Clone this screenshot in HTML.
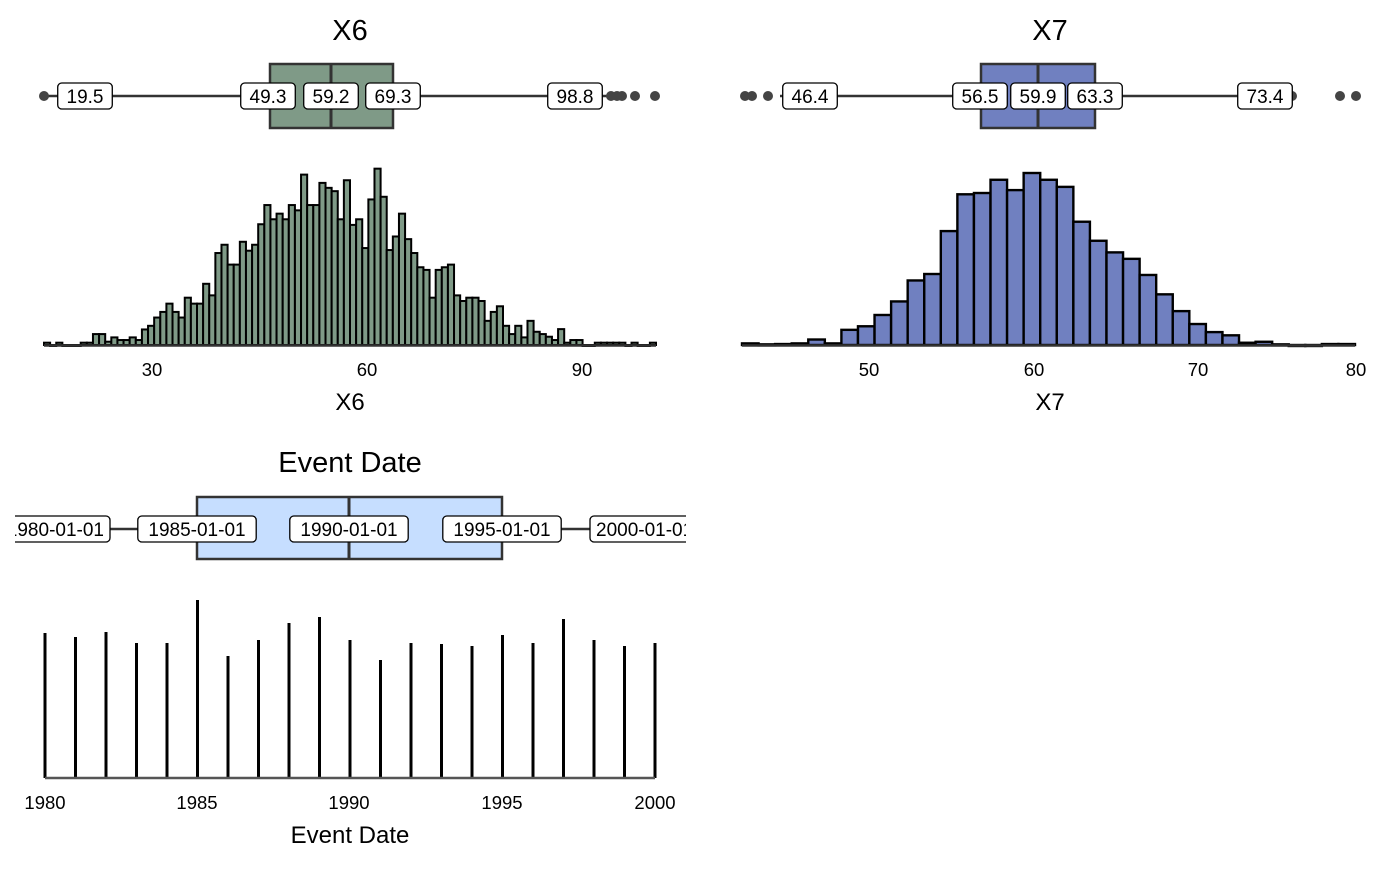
<!DOCTYPE html>
<html><head><meta charset="utf-8"><style>
html,body{margin:0;padding:0;background:#fff}
svg text{font-family:"Liberation Sans",Arial,sans-serif}
</style></head><body>
<svg id="s" width="1400" height="866" viewBox="0 0 1400 866" xmlns="http://www.w3.org/2000/svg">
<rect width="1400" height="866" fill="#fff"/>
<text x="350" y="40" font-size="29" text-anchor="middle">X6</text>
<text x="1050" y="40" font-size="29" text-anchor="middle">X7</text>
<text x="350" y="472" font-size="29" text-anchor="middle">Event Date</text>
<g id="h6"></g><g id="h7"></g><g id="ev"></g>
<g font-size="18.5" text-anchor="middle">
<text x="152" y="376">30</text><text x="367" y="376">60</text><text x="582" y="376">90</text>
<text x="869" y="376">50</text><text x="1034" y="376">60</text><text x="1198" y="376">70</text><text x="1356" y="376">80</text>
<text x="45" y="809">1980</text><text x="197" y="809">1985</text><text x="349" y="809">1990</text><text x="502" y="809">1995</text><text x="655" y="809">2000</text>
</g>
<g font-size="24" text-anchor="middle">
<text x="350" y="410">X6</text><text x="1050" y="410">X7</text><text x="350" y="843">Event Date</text>
</g>
<g id="bx"></g>
</svg>
<script>
var NS="http://www.w3.org/2000/svg";
function el(p,t,a,txt){var e=document.createElementNS(NS,t);for(var k in a)e.setAttribute(k,a[k]);if(txt!==undefined)e.textContent=txt;p.appendChild(e);return e;}
var t6=[548,555,548,555,555,555,548,548,522,522,545,532,540,540,532,540,508,497,472,455,430,455,472,412,430,430,370,405,277,252,312,312,243,270,252,190,132,175,158,175,132,148,40,132,132,65,80,90,175,57,192,175,262,115,22,107,268,227,158,235,277,320,328,412,328,320,312,405,422,412,412,422,482,455,438,497,522,497,532,482,515,522,530,540,507,548,540,540,555,555,548,548,548,548,548,555,548,555,555,548];
var g6=document.getElementById('h6');var x0=44,x1=656,w=(x1-x0)/t6.length;
for(var i=0;i<t6.length;i++){var h=(555-t6[i])*177/535;el(g6,'rect',{x:x0+i*w,y:345-h,width:w,height:Math.max(h,1),fill:'#7f9a87',stroke:'#000','stroke-width':2});}
el(g6,'line',{x1:x0,x2:x1,y1:345.5,y2:345.5,stroke:'#333','stroke-width':2.5});
var t7=[550,553,552,550,538,550,508,497,462,420,355,335,202,88,84,43,75,22,43,65,173,232,268,288,338,398,450,490,515,525,548,545,553,555,555,552,552];
var g7=document.getElementById('h7');x0=742;x1=1355;w=(x1-x0)/t7.length;
for(i=0;i<t7.length;i++){h=(555-t7[i])*172/533;el(g7,'rect',{x:x0+i*w,y:345-h,width:w,height:Math.max(h,1),fill:'#7080c0',stroke:'#000','stroke-width':2.4});}
el(g7,'line',{x1:x0,x2:x1,y1:345.5,y2:345.5,stroke:'#333','stroke-width':2.5});
var ev=document.getElementById('ev');var tops=[633,637,632,643,643,600,656,640,623,617,640,660,643,644,646,635,643,619,640,646,643];
for(i=0;i<21;i++){var x=45+i*30.5;el(ev,'line',{x1:x,x2:x,y1:tops[i],y2:778,stroke:'#000','stroke-width':3});}
el(ev,'line',{x1:45,x2:655,y1:778,y2:778,stroke:'#555','stroke-width':2.5});
var bx=document.getElementById('bx');
function lab(cx,cy,t,fs){var tw=t.length*fs*0.56+12;
 el(bx,'rect',{x:cx-tw/2,y:cy-13,width:tw,height:26,rx:4,fill:'#fff',stroke:'#000','stroke-width':1.3});
 el(bx,'text',{x:cx,y:cy+7,'font-size':fs,'text-anchor':'middle'},t);}
el(bx,'line',{x1:44,x2:612,y1:96,y2:96,stroke:'#333','stroke-width':2.5});
el(bx,'rect',{x:270,y:64,width:123,height:64,fill:'#7f9a87',stroke:'#333','stroke-width':2.5});
el(bx,'line',{x1:331,x2:331,y1:64,y2:128,stroke:'#333','stroke-width':3});
[44,611,617,622,635,655].forEach(function(x){el(bx,'circle',{cx:x,cy:96,r:5,fill:'#444'});});
lab(85,96,'19.5',19);lab(268,96,'49.3',19);lab(331,96,'59.2',19);lab(393,96,'69.3',19);lab(575,96,'98.8',19);
el(bx,'line',{x1:780,x2:1292,y1:96,y2:96,stroke:'#333','stroke-width':2.5});
el(bx,'rect',{x:981,y:64,width:114,height:64,fill:'#7080c0',stroke:'#333','stroke-width':2.5});
el(bx,'line',{x1:1038,x2:1038,y1:64,y2:128,stroke:'#333','stroke-width':3});
[745,752,768,1292,1340,1356].forEach(function(x){el(bx,'circle',{cx:x,cy:96,r:5,fill:'#444'});});
lab(810,96,'46.4',19);lab(980,96,'56.5',19);lab(1038,96,'59.9',19);lab(1095,96,'63.3',19);lab(1265,96,'73.4',19);
el(bx,'line',{x1:15,x2:685,y1:529,y2:529,stroke:'#333','stroke-width':2.5});
el(bx,'rect',{x:197,y:497,width:305,height:62,fill:'#c6deff',stroke:'#333','stroke-width':2.5});
el(bx,'line',{x1:349,x2:349,y1:497,y2:559,stroke:'#333','stroke-width':3});
lab(197,529,'1985-01-01',19);lab(349,529,'1990-01-01',19);lab(502,529,'1995-01-01',19);
el(bx,'rect',{x:-20,y:516,width:130,height:26,rx:4,fill:'#fff',stroke:'#000','stroke-width':1.3});
el(bx,'rect',{x:590,y:516,width:130,height:26,rx:4,fill:'#fff',stroke:'#000','stroke-width':1.3});
el(bx,'text',{x:104,y:536,'font-size':19,'text-anchor':'end'},'1980-01-01');
el(bx,'text',{x:596,y:536,'font-size':19},'2000-01-01');
el(bx,'rect',{x:0,y:505,width:15,height:50,fill:'#fff'});
el(bx,'rect',{x:686,y:505,width:40,height:50,fill:'#fff'});
</script>
</body></html>
